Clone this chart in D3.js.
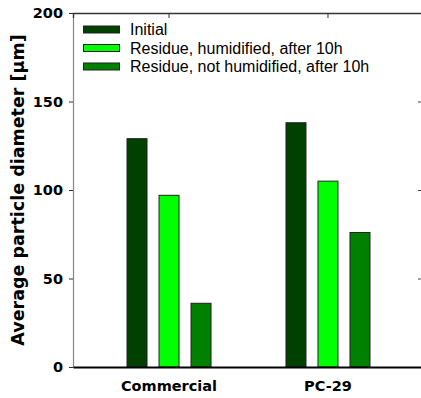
<!DOCTYPE html>
<html>
<head>
  <script src="https://d3js.org/d3.v7.min.js"></script>
  <style>
    body { margin: 0; background: #fff; }
    svg { display: block; }
  </style>
</head>
<body>
  <div id="chart"></div>
  <script>
    // data
    var categories = ["Commercial", "PC-29"];
    var seriesNames = ["Initial", "Residue, humidified, after 10h", "Residue, not humidified, after 10h"];
    var seriesColours = ["#004000", "#00ff00", "#008000"];
    var initialValues = [129, 138];
    var humidifiedValues = [97, 105];
    var notHumidifiedValues = [36, 76];
    var yTicks = [0, 50, 100, 150, 200];

    var width = 421, height = 398;
    var margin = { top: 13, right: -3, bottom: 31, left: 73 };
    var groupWidth = 84;

    var svg = d3.select("#chart").append("svg")
      .attr("width", width)
      .attr("height", height);

    var x = d3.scaleBand()
      .domain(categories)
      .range([margin.left, width - margin.right])
      .paddingInner(0)
      .paddingOuter(0.104);

    var xs = d3.scaleBand()
      .domain(seriesNames)
      .range([0, groupWidth])
      .paddingInner(0.375)
      .paddingOuter(0);

    var y = d3.scaleLinear()
      .domain([0, 200])
      .range([height - margin.bottom, margin.top]);

    var rows = categories.map(function (c, i) {
      return { cat: c, vals: [initialValues[i], humidifiedValues[i], notHumidifiedValues[i]] };
    });

    // bars
    var groups = svg.append("g").selectAll("g")
      .data(rows)
      .enter().append("g")
      .attr("transform", function (d) {
        return "translate(" + (x(d.cat) + x.bandwidth() / 2 - groupWidth / 2) + ",0)";
      });

    groups.selectAll("rect")
      .data(function (d) { return d.vals.map(function (v, i) { return { v: v, i: i }; }); })
      .enter().append("rect")
      .attr("x", function (d) { return xs(seriesNames[d.i]); })
      .attr("y", function (d) { return y(d.v); })
      .attr("width", xs.bandwidth())
      .attr("height", function (d) { return y(0) - y(d.v); })
      .attr("fill", function (d) { return seriesColours[d.i]; })
      .attr("stroke", "#222")
      .attr("stroke-width", 1);

    // left axis
    var yAxis = svg.append("g")
      .attr("transform", "translate(" + margin.left + ",0)")
      .call(d3.axisLeft(y).tickValues(yTicks).tickSize(4).tickPadding(6));
    yAxis.select(".domain").attr("stroke", "#888").attr("stroke-width", 1.2);
    yAxis.selectAll(".tick line").attr("stroke", "#333");
    yAxis.selectAll("text")
      .attr("font-family", "DejaVu Sans, Verdana, sans-serif")
      .attr("font-weight", "bold")
      .attr("font-size", 14.5)
      .attr("fill", "#000");

    // right ticks (inward)
    var yRight = svg.append("g")
      .attr("transform", "translate(" + (width + 3) + ",0)")
      .call(d3.axisRight(y).tickValues(yTicks).tickSize(-6).tickFormat(""));
    yRight.select(".domain").attr("stroke", "#444");
    yRight.selectAll(".tick line").attr("stroke", "#444");

    // bottom axis
    var xAxis = svg.append("g")
      .attr("transform", "translate(0," + y(0) + ")")
      .call(d3.axisBottom(x).tickSize(0).tickPadding(14));
    xAxis.select(".domain").attr("stroke", "#000").attr("stroke-width", 2);
    xAxis.selectAll("text")
      .attr("font-family", "DejaVu Sans, Verdana, sans-serif")
      .attr("font-weight", "bold")
      .attr("font-size", 14.5)
      .attr("fill", "#000");

    // top border with ticks pointing down
    var xTop = svg.append("g")
      .attr("transform", "translate(0," + y(200) + ")")
      .call(d3.axisTop(x).tickSize(-5).tickFormat(""));
    xTop.select(".domain").attr("stroke", "#333").attr("stroke-width", 1.3);
    xTop.selectAll(".tick line").attr("stroke", "#333");

    // y title
    svg.append("text")
      .attr("transform", "translate(24," + ((y(0) + y(200)) / 2) + ") rotate(-90)")
      .attr("text-anchor", "middle")
      .attr("font-family", "DejaVu Sans, Verdana, sans-serif")
      .attr("font-weight", "bold")
      .attr("font-size", 17.5)
      .text("Average particle diameter [\u00b5m]");

    // legend
    var legend = svg.append("g").selectAll("g")
      .data(seriesNames)
      .enter().append("g")
      .attr("transform", function (d, i) { return "translate(83," + (29.5 + i * 18.5) + ")"; });

    legend.append("rect")
      .attr("x", 0.5)
      .attr("y", -3.5)
      .attr("width", 36)
      .attr("height", 7)
      .attr("fill", function (d, i) { return seriesColours[i]; })
      .attr("stroke", "#222");

    legend.append("text")
      .attr("x", 47)
      .attr("dy", "0.36em")
      .attr("font-family", "Liberation Sans, Arial, sans-serif")
      .attr("font-size", 16)
      .text(function (d) { return d; });
  </script>
</body>
</html>
